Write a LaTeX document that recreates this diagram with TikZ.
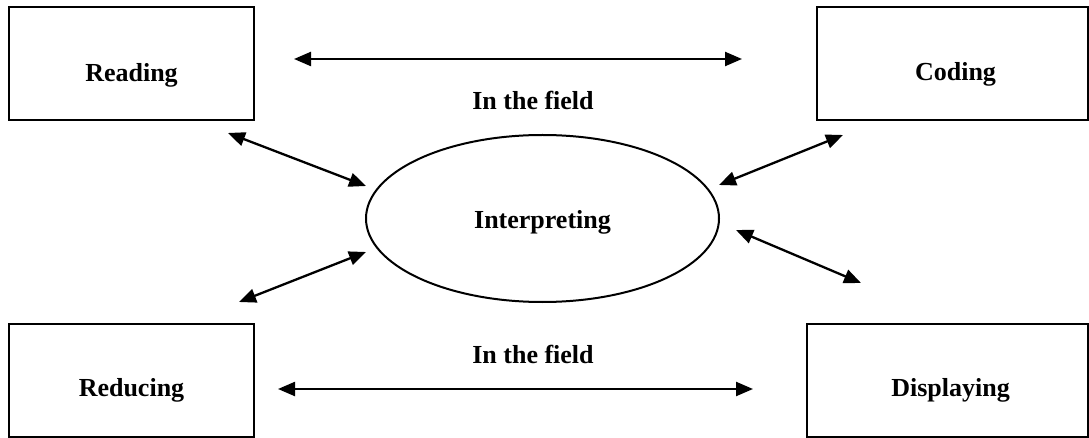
\documentclass[tikz,border=0pt]{standalone}
\usepackage{fontspec}
\setmainfont{Liberation Serif}
\usetikzlibrary{arrows.meta,shapes.geometric}
\begin{document}
\begin{tikzpicture}[x=1pt,y=-1pt,
  box/.style={draw,line width=2pt,rectangle,inner sep=0pt},
  lbl/.style={inner sep=0pt,font=\bfseries\fontsize{26}{30}\selectfont},
  link/.style={line width=2.3pt,{Triangle[length=17pt,width=14pt]}-{Triangle[length=17pt,width=14pt]}}]
\useasboundingbox (0,0) rectangle (1089,438);
% boxes
\node[box,minimum width=245pt,minimum height=113pt] (read) at (131.5,63.5) {};
\node[box,minimum width=271pt,minimum height=113pt] (code) at (952.5,63.5) {};
\node[box,minimum width=245pt,minimum height=113pt] (reduce) at (131.5,380.5) {};
\node[box,minimum width=281pt,minimum height=113pt] (disp) at (947.5,380.5) {};
\node[lbl] at ([yshift=-12pt]read.center) {Reading};
\node[lbl] at ([xshift=3pt,yshift=-11pt]code.center) {Coding};
\node[lbl] at ([yshift=-10pt]reduce.center) {Reducing};
\node[lbl] at ([xshift=3pt,yshift=-10pt]disp.center) {Displaying};
% ellipse
\node[ellipse,draw,line width=2pt,minimum width=353pt,minimum height=167pt,inner sep=0pt] (interp) at (542.5,218.5) {};
\node[lbl] at ([yshift=-4pt]interp.center) {Interpreting};
% field labels
\node[lbl] (f1) at (533,100) {In the field};
\node[lbl] (f2) at (533,354) {In the field};
% arrow ends
\coordinate (t1) at (294,59);
\coordinate (t2) at (742,59);
\coordinate (b1) at (278,389);
\coordinate (b2) at (753,389);
\coordinate (rl) at (228,133);
\coordinate (rr) at (366,186);
\coordinate (dl) at (239,302);
\coordinate (dr) at (366,252);
\coordinate (cl) at (719,185);
\coordinate (cr) at (843,135);
\coordinate (sl) at (736,230);
\coordinate (sr) at (861,283);
\draw[link] (t1) -- (t2);
\draw[link] (b1) -- (b2);
\draw[link] (rl) -- (rr);
\draw[link] (dl) -- (dr);
\draw[link] (cl) -- (cr);
\draw[link] (sl) -- (sr);
\end{tikzpicture}
\end{document}
